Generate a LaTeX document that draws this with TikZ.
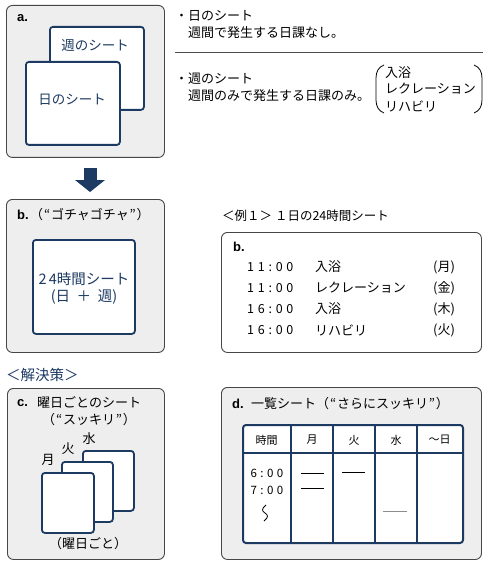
\documentclass[tikz,border=0pt]{standalone}
\usepackage{fontspec}
\setmainfont{Noto Sans CJK JP}
\newfontfamily\latf{Liberation Sans}
\usetikzlibrary{arrows.meta}
\definecolor{navy}{RGB}{28,58,98}
\definecolor{panelgray}{RGB}{238,238,238}
\definecolor{edgegray}{RGB}{70,70,70}
\newcommand{\oq}{\makebox[0.6em][c]{“}}
\newcommand{\cq}{\makebox[0.6em][c]{”}}
\begin{document}
\begin{tikzpicture}[x=1pt,y=-1pt,
  panel/.style={draw=edgegray, fill=panelgray, line width=0.9pt, rounded corners=6pt, inner sep=0pt, anchor=north west},
  wpanel/.style={draw=edgegray, fill=white, line width=0.9pt, rounded corners=6pt, inner sep=0pt, anchor=north west},
  sheetbox/.style={draw=navy, fill=white, line width=1.8pt, rounded corners=3pt, inner sep=0pt, anchor=north west},
  jt/.style={inner sep=0pt, anchor=west, font=\fontsize{13}{15}\selectfont},
  jc/.style={inner sep=0pt, font=\fontsize{13}{15}\selectfont},
  jn/.style={inner sep=0pt, text=navy, font=\fontsize{13.5}{16}\selectfont},
  lbl/.style={inner sep=0pt, anchor=west, font=\latf\bfseries\fontsize{13}{15}\selectfont},
  tm/.style={inner sep=0pt, anchor=west, font=\addfontfeature{LetterSpace=30}\fontsize{12.5}{15}\selectfont},
  hd/.style={inner sep=0pt, font=\fontsize{11}{13}\selectfont},
  entryline/.style={line width=0.8pt},
]
\useasboundingbox (0,0) rectangle (490,564);

% ---------- panel a ----------
\node[panel, minimum width=158, minimum height=152] (pa) at (6,5) {};
\node[lbl] (alab) at (17,18) {a.};
\node[sheetbox, minimum width=94, minimum height=83] (wsheet) at (49,26) {};
\node[jn] (wtext) at (95,45) {週のシート};
\node[sheetbox, minimum width=94, minimum height=83] (dsheet) at (25,61) {};
\node[jn] (dtext) at (72,100) {日のシート};

\node[jt] (t1) at (175,16) {・日のシート};
\node[jt] (t2) at (188,33) {週間で発生する日課なし。};
\coordinate (sepL) at (175,52);
\coordinate (sepR) at (483,52);
\draw[line width=0.8pt, black!70] (sepL) -- (sepR);
\node[jt] (t3) at (175,79) {・週のシート};
\node[jt] (t4) at (188,96) {週間のみで発生する日課のみ。};
\node[jt] (g1) at (385,73) {入浴};
\node[jt] (g2) at (385,89) {レクレーション};
\node[jt] (g3) at (385,106) {リハビリ};
\draw[line width=0.8pt] (384,65) to[out=200,in=90] (376,78) -- (376,100) to[out=270,in=160] (384,113);
\draw[line width=0.8pt] (474,65) to[out=-20,in=90] (482,78) -- (482,100) to[out=270,in=20] (474,113);

% ---------- arrow ----------
\coordinate (arrTop) at (90,168);
\coordinate (arrTip) at (90,192);
\draw[navy, line width=13pt, -{Triangle[width=30pt,length=12pt,line width=0pt]}] (arrTop) -- (arrTip);

% ---------- panel b ----------
\node[panel, minimum width=158, minimum height=153] (pb) at (6,199) {};
\node[lbl] (blab) at (17,215) {b.};
\node[jt] (btitle) at (30,215) {（\oq ゴチャゴチャ\cq ）};
\node[sheetbox, minimum width=102, minimum height=94] (hsheet) at (32,239) {};
\node[jn, font=\fontsize{14.5}{17}\selectfont] (h1) at (84,279) {{\addfontfeature{LetterSpace=15}24}時間シート};
\node[jn, font=\fontsize{14.5}{17}\selectfont] (h2) at (84,297) {(日\hspace{0.45em}＋\hspace{0.45em}週)};

% ---------- example ----------
\node[inner sep=0pt, anchor=west, font=\fontsize{12.5}{15}\selectfont] (ex) at (222,216) {＜例１＞ １日の24時間シート};
\node[wpanel, minimum width=260, minimum height=120] (pex) at (221,232) {};
\node[lbl] (exlab) at (233,247) {b.};
\node[tm] (r1a) at (247,267) {11:00};
\node[jt] (r1b) at (315,267) {入浴};
\node[jt] (r1c) at (433,267) {(月)};
\node[tm] (r2a) at (247,288) {11:00};
\node[jt] (r2b) at (315,288) {レクレーション};
\node[jt] (r2c) at (433,288) {(金)};
\node[tm] (r3a) at (247,309) {16:00};
\node[jt] (r3b) at (315,309) {入浴};
\node[jt] (r3c) at (433,309) {(木)};
\node[tm] (r4a) at (247,330) {16:00};
\node[jt] (r4b) at (315,330) {リハビリ};
\node[jt] (r4c) at (433,330) {(火)};

% ---------- solution ----------
\node[inner sep=0pt, anchor=west, text=navy, font=\fontsize{14.5}{17}\selectfont] (sol) at (6,375) {＜解決策＞};

% ---------- panel c ----------
\node[panel, minimum width=157, minimum height=171] (pc) at (7,388) {};
\node[lbl] (clab) at (17,403) {c.};
\node[jt] (ctitle) at (37,403) {曜日ごとのシート};
\node[jc] (csub) at (89,420) {（\oq スッキリ\cq ）};
\node[sheetbox, minimum width=51, minimum height=60] (s3) at (82,450) {};
\node[sheetbox, minimum width=51, minimum height=60] (s2) at (61,461) {};
\node[sheetbox, minimum width=52, minimum height=60] (s1) at (41,472) {};
\node[jc] (l1) at (48,460) {月};
\node[jc] (l2) at (68,449) {火};
\node[jc] (l3) at (89,439) {水};
\node[jc] (cfoot) at (88,544) {（曜日ごと）};

% ---------- panel d ----------
\node[panel, minimum width=260, minimum height=172] (pd) at (221,387) {};
\node[lbl] (dlab) at (232,404) {d.};
\node[jt] (dtitle) at (251,404) {一覧シート（\oq さらにスッキリ\cq ）};
\node[draw=navy, fill=white, line width=2pt, rounded corners=3pt, inner sep=0pt, anchor=north west, minimum width=220, minimum height=118] (tbl) at (242,424) {};
\draw[navy, line width=2pt] (242,453) -- (462,453);
\foreach \cx in {291,333,375,417} \draw[navy, line width=2pt] (\cx,424) -- (\cx,542);
\node[hd] (hh0) at (266.5,440) {時間};
\node[hd] (hh1) at (312,440) {月};
\node[hd] (hh2) at (354,440) {火};
\node[hd] (hh3) at (396,440) {水};
\node[hd] (hh4) at (439.5,440) {～日};
\node[inner sep=0pt, font=\addfontfeature{LetterSpace=30}\fontsize{11.5}{14}\selectfont] (tt1) at (267,473) {6:00};
\node[inner sep=0pt, font=\addfontfeature{LetterSpace=30}\fontsize{11.5}{14}\selectfont] (tt2) at (267,490) {7:00};
\draw[line width=0.8pt] (266,505) .. controls (261,509) and (262,511) .. (265,513) .. controls (268,515) and (269,517) .. (264,521);
\draw[entryline] (301,473) -- (324,473);
\draw[entryline] (301,488) -- (324,488);
\draw[entryline] (342,472) -- (365,472);
\draw[entryline, black!45] (383,511) -- (407,511);
\end{tikzpicture}
\end{document}
